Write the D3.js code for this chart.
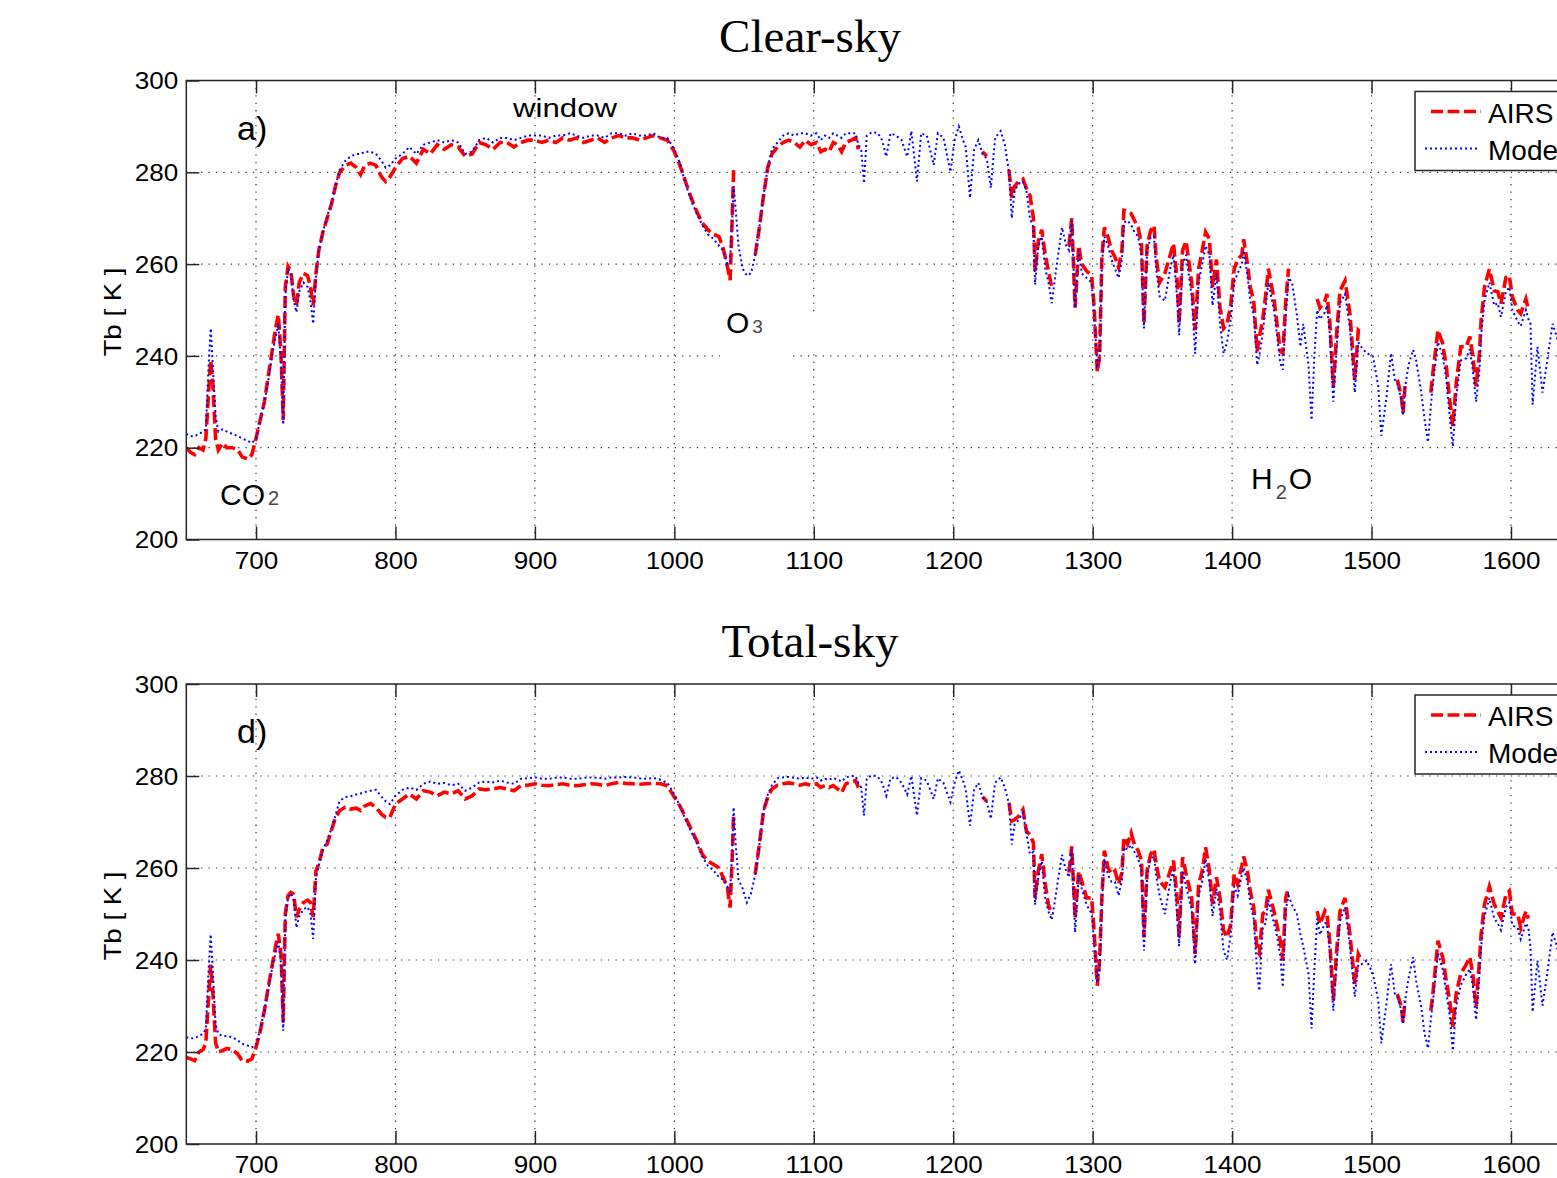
<!DOCTYPE html>
<html>
<head>
<meta charset="utf-8">
<script src="https://d3js.org/d3.v7.min.js"></script>
<style>
  body { margin: 0; background: #fff; }
  svg { display: block; font-family: "Liberation Sans", Arial, Helvetica, sans-serif; }
</style>
</head>
<body>
<div id="chart"></div>
<script>
const _ = null; // no AIRS channel

// wavenumber [cm-1] shared by all four spectra
const wavenumber = [
  650,653,656,659,662,664,666,667.5,669,671,673,676,679,683,687,690,694,697,700,703,706,709,712,714,716,718,719.5,721,723,725,727,729,731,734,737,739,741,743,745,748,751,754,757,
  760,764,768,772,775,778,782,786,790,793,796,
  800,805,810,815,820,825,830,835,840,845,850,855,860,865,870,875,880,885,890,895,900,905,910,915,920,925,930,935,940,945,950,955,960,965,970,975,980,985,990,995,
  1000,1004,1008,1012,1016,1020,1024,1028,1032,1035,1038,1040,1041.5,1042.5,1044,1046,1049,1052,1055,1058,1061,1064,1067,1070,1074,1078,1082,1086,1090,1094,1098,1102,1105,1108,1111,1114,1117,1120,1123,1127,1130,1132,
  1134,1136,1138,1142,1146,1149,1152,1155,1159,1163,1167,1170,1174,1177,1181,1186,1189,1193,1198,1201,1204,1207,1209,1212,1215,1218,1221,1224,1227,1230,1234,1237,
  1240,1242,1244,1247,1250,1252.5,1255,1257.5,1258.7,1261,1263.5,1266,1268.3,1270.7,1273,1275,1278,1281,1283,1285,1287.4,1290,1292.2,1295.7,1299.3,
  1301,1303.3,1305,1306.6,1308.4,1311,1313.5,1316,1318.6,1321,1322.4,1325,1327.6,1330,1332.6,1335,1336.8,1339,1341.6,1344,1345.5,1348,1351.8,1355.6,1358,1360.7,1362,1364.5,1367,1371,1373.5,1376,1378.6,1381,1383.7,1386,1388.8,1391.3,1393.9,1396.4,1399,1401.5,1404,
  1407,1408.3,1411,1413,1415.5,1418,1419.5,1422,1424,1426,1430,1432,1434.5,1436.4,1438.5,1440.5,1443,1446.4,1449,1451,1454.8,1457,1459,1461,1463,1466.6,1468,1470,1472.6,1475,1477.4,1481,1484.5,1488,1490.5,1492.5,
  1496.4,1501,1504.8,1507,1510.7,1514,1516.7,1518.5,1521.4,1522.6,1524,1526.5,1529.8,1532,1535.7,1538,1540.5,
  1542.5,1544,1547.6,1551,1553.6,1556,1558.3,1560.7,1564,1568,1570.5,1572.6,1575,1577.4,1578.6,1581,1584.5,1588,1590.5,1592.8,1596.4,1598.8,1601,1604.8,1607,1610.7,1612.5,1614,1615.5,1619,1622.6,1626,1629.8,1633,1637,1641,1645,1650
];

// brightness temperature [K], clear sky
const airsClear = [
  220,219,218.5,220,219.5,222,232,239,234,222,219.5,221,220,220,219.5,218,217.5,218.5,222,226,230,236,242,246,249,240,226,255,259.5,258.5,253,251,256,258,257.5,255,251,258,263,267,270,273,277,
  280,281.5,282,281,279.5,281.5,282,281.5,279,278,279,
  281,283,283.5,282,285,284,286,285,286,285.5,283.5,284,286.5,286,285,286.5,286.5,285.5,286.5,287,287,286.5,287,286.5,287.5,287,287.5,286.5,287,287.5,286.5,287.5,288,287.5,287.5,287,287.5,288,287.5,287,
  284.5,281.5,278,274.5,271.5,269,267.5,266.5,266,263.5,259.5,256.5,270,280.5,_,_,_,_,_,262,268,275,281,284,285.5,286.5,287,286.5,285.5,287,286,286.5,284.5,285,284.5,286.5,286,284.5,286.5,287,287.5,285,
  _,_,_,_,_,_,_,_,_,_,_,_,_,_,_,_,_,_,_,_,_,_,_,_,_,_,284.5,283.5,_,_,_,_,
  280.5,274.5,277,278,278.5,276.5,275,270,258.5,265,267.5,262,258.5,255,_,_,_,_,264,270,250.5,264,260,258.5,257.5,
  251,236.5,240,261.5,268,265.9,263,261.5,259.3,263,271.7,271.5,271,269.5,268,264.4,247,264,267.3,268.4,261.5,256,258,262,264.5,256,247,263,265,256,245.6,259,263,267,265.5,255,261,250.6,246,247,251,259,261,
  262,265.4,260,255,252,241,244,248,253,259,252.5,247.5,241,240.6,252,259,_,_,_,_,_,_,_,252.4,250.5,252,253.5,247.8,233.4,245,254.2,256.4,249.2,234.8,245.6,245,
  _,_,_,_,_,_,_,234.8,231.2,227.6,233.4,_,_,_,_,_,_,
  232,236.3,245.6,242.7,237.7,230.5,224.7,234,242,242,244.2,240,233.4,240.6,247.8,255,258.9,254.2,254,251.4,257.1,257.5,252.8,250,249.2,252.4,250,_,_,_,_,_,_,_,_,_,_,_
];
const modelClear = [
  223,222.5,222.5,223,223.5,224,238,246,238,227,223.5,224,223.5,223,222.5,222,221.5,221,222,226,230,235,241,244,247,238,225,253,259,258,252,249.5,254,256,255,252,247,257,263,267,270.5,273,277,
  280.5,282.5,283.5,284,284,284.5,284.5,284,282.5,281,281.5,
  283,284,285.5,284,286,286.5,287,286.5,287,286.5,284,284.5,287,287.5,286.5,287.5,287.5,287,287.5,288,288,288,287.5,288,288,288.5,288,287.5,288,288,287.5,288.5,288.5,288,288.5,288,288,288.5,287.5,287.5,
  285,282,277.5,274,271,268.5,266.5,265.5,264,263,260,260.5,270,277,272,264,259,257.5,258,262,268,275,281,285,286.5,288,288.5,288,288.5,288.5,288,288.5,287,288,287.5,288.5,288,287.5,288.5,288.5,288.5,286,
  285,277.6,288,288.8,288.5,287,283.4,288.5,288,287,283.4,289,278,288.5,288,281.6,288.5,287.5,280.1,287,290,287,285.5,274.4,285,287,284,283,276.6,287.5,289,286,
  280,270,276,277.5,278,276,270,268,255.5,264,266,259,256,251.5,257,261.5,268,264,263,269.5,250.5,263,258,257,256,
  249,238,239,260,266,264,261,259,257,261,269,269.5,268.5,267,266,262,246,262.5,266,266,259,253,252,259,262,252,244.5,260,262,253,240.5,256,260,264,262,251,258,247,240.5,243,248,256,258,
  260,263,257.5,252,249,238,240,245,250.5,256,250,245,238.5,237,249,257,256,249,242,247,238,226,240,250,248,249.5,251,245,230,242,251.5,253.5,246,232,243,242,
  240.6,239.9,233.4,222.6,231,240.6,234.8,234,230.5,227,233,238,241.3,239,232,226.2,221.2,
  229,234,243,240,235,227,220.3,231,239,239.5,241.5,237,230,237,244.5,252,256,251,251.5,248.5,254,255,250,247.5,246.5,250,248,247,229.4,242,232,239,247,244,238,243,237,240
];

// brightness temperature [K], total sky
const airsTotal = [
  218.8,218.5,218.1,220,220.5,222,232,239,233,222,220,220.3,220.8,220.5,219.5,218.1,218,218.5,221,224.5,229,234.5,239.5,243,245.7,241,226.4,250,254,254.7,254.3,249.3,251,252.5,253,252.5,249.3,259.4,260.9,264.5,265.2,268.1,271,
  272.5,273.2,272.8,273,272.5,273.5,274,273.2,271.7,271,271,
  273.9,275,276.1,275,276.8,276.5,275.7,276.5,276.1,276.8,275,275.7,277.2,277,277.2,277.5,277.2,276.8,277.9,278,278.3,278,277.9,278.1,278.3,278,277.9,278.1,278.3,278.2,277.9,278.3,278.6,278.4,278.3,278.2,278.3,278.4,278.3,277.9,
  275.4,273.5,271,268.5,266,263,261.5,260.8,260,258,255.8,251.4,262,271.7,_,_,_,_,_,258.7,265.2,272.5,275.4,277.2,278,278.3,278.5,278.3,278,278.3,278,278.3,277.5,277.9,277.5,277.9,277.2,276.4,278.3,278.8,279,277.5,
  _,_,_,_,_,_,_,_,_,_,_,_,_,_,_,_,_,_,_,_,_,_,_,_,_,_,275.5,274.5,_,_,_,_,
  274.2,270.2,270.5,271.3,272.7,268,267.3,265.5,253.5,259.3,263,256.4,252,249.8,_,_,_,_,259,264.7,249.1,259.3,257.1,253.5,253.5,
  246.4,234.4,240,253.6,263.8,260.1,258.7,259.4,256.5,259,266.7,265.2,267.6,265,263.8,261.6,244.9,259.4,263,264.1,260.9,257.2,255.8,259.4,261.6,252.9,244.9,262.3,258.7,253.6,241.3,256.5,259.4,264.5,259.5,252.2,258,253.6,246.4,244.9,247.8,258.7,256.5,
  260.5,262.5,259.3,255,251.5,242,241.3,250,250.6,255.3,250.6,247.8,244.2,239.9,253.6,255.7,_,_,_,_,_,_,_,250.6,247.8,250.7,250,244.2,231.2,242,250.6,253.5,245.6,234.8,241.3,240,
  _,_,_,_,_,_,_,232.6,229.8,226.5,231.2,_,_,_,_,_,_,
  229,232.7,244.2,240.6,235.5,231.2,225.5,232.7,237,239.1,240.6,237,229.8,239.9,245.6,252.1,256,252.1,250.6,249.2,254.2,255,250,250,247,250.6,249,_,_,_,_,_,_,_,_,_,_,_
];
const modelTotal = [
  223.2,223,223,223.5,224,225,238,245.6,238,226,223.9,223.5,223.5,223.2,222.5,221.8,221.4,221,221.5,225,229,234,239,241.5,244,239,224.6,249,253.5,254.5,253,247,249.5,251,251.5,250,244.6,258,260.5,264,266,268.5,271.5,
  274.6,275.4,275.6,276,276.2,276.5,276.8,277,275.5,274.5,273.9,
  275.7,277,277.5,277,278.3,278.8,278.3,278.5,278,278.3,276.8,277.5,278.6,278.8,278.6,279,278.6,278.3,279.4,279.5,279.7,279.4,279.4,279.6,279.7,279.4,279.4,279.6,279.7,279.6,279.4,279.7,279.7,279.8,279.7,279.5,279.4,279.6,279.2,278.5,
  276,273.5,270.5,268,265.5,262.5,260.5,259.5,258,257.5,256,254.5,264,273.2,265.2,257.5,255.5,252.5,254.5,258.5,265,272.5,276,278,279.5,279.7,279.8,279.6,279.4,279.7,279.4,279.7,279,279.4,279.2,279.6,279.2,278.8,279.7,280,280,278.5,
  277.5,271.4,279.5,280.2,279.8,278.5,275.7,279.5,279.8,278.5,276,280,271.4,279.5,279,275,279.5,278.5,274.3,278.5,281.2,279,277,269.2,277,278.5,275.4,274.5,270.7,278.5,279.7,277.5,
  273.9,265.1,269.5,270.5,272,267.5,263,263.5,252,258,261.5,253.5,250.5,248.7,253,257.1,262.9,259.3,258,264,246,258.5,255.5,252,250,
  244,235,238,252,262,258.5,257,257,254,257.5,264.5,264,265,263.5,262,259.5,242,258,262,262.5,258.5,254,250,257,259.5,249,243,259.5,256,251,239.1,254,257,262,257,249.5,255.5,250.5,242,240,245.5,256,254,
  258.5,260,257,252.5,249,237,233.3,247,248,253,248,245.5,241,234.1,251,254,252,250,245.6,243,237,225.1,238,249,245.5,248,248,242,229,239.5,248.5,251.5,243,232,239,239,
  239.9,237,231.2,221.9,230.5,239.1,232.7,232,229,226,231,236,240.6,235.5,229.8,224,220.8,
  227,231,241.5,238,233,228,220.3,230,234.5,237,238,234.5,227,237,243,249.5,253.5,249,248,246.5,251.5,252.5,247.5,247,244.5,248,247,242.7,228.7,239.9,230.1,237,246,243,236,241,235,238
];

const xTicks = [700, 800, 900, 1000, 1100, 1200, 1300, 1400, 1500, 1600];
const yTicks = [200, 220, 240, 260, 280, 300];
const seriesNames = ["AIRS", "Model"];

[airsClear, modelClear, airsTotal, modelTotal].forEach(s => {
  if (s.length !== wavenumber.length) throw new Error("length mismatch " + s.length + " vs " + wavenumber.length);
});

const width = 1557, height = 1178;
const svg = d3.select("#chart").append("svg")
    .attr("width", width)
    .attr("height", height);

// the figure is cut on the right, the axes run on past the page edge
const x = d3.scaleLinear().domain([650, 1650]).range([186.3, 1580.7]);

const panels = [
  {id: "clear", title: "Clear-sky", titleY: 52, tag: "a)", top: 80.5, bottom: 539.5, airs: airsClear, model: modelClear},
  {id: "total", title: "Total-sky", titleY: 657, tag: "d)", top: 684, bottom: 1144, airs: airsTotal, model: modelTotal}
];

const axisColor = "#262626";
const serif = "'Liberation Serif', 'Times New Roman', Times, serif";

panels.forEach((p, pi) => {
  const y = d3.scaleLinear().domain([200, 300]).range([p.bottom, p.top]);
  const g = svg.append("g");
  const x0 = x.range()[0], x1 = x.range()[1];

  g.append("clipPath").attr("id", "clip-" + p.id)
    .append("rect")
      .attr("x", x0).attr("y", p.top)
      .attr("width", x1 - x0).attr("height", p.bottom - p.top);

  // dotted grid
  g.append("g").selectAll("line").data(xTicks).join("line")
      .attr("x1", d => x(d)).attr("x2", d => x(d))
      .attr("y1", p.top).attr("y2", p.bottom)
      .attr("stroke", "#333").attr("stroke-width", 1.2)
      .attr("stroke-dasharray", "1.3,6.1");
  g.append("g").selectAll("line").data(yTicks.slice(1, -1)).join("line")
      .attr("x1", x0).attr("x2", x1)
      .attr("y1", d => y(d)).attr("y2", d => y(d))
      .attr("stroke", "#333").attr("stroke-width", 1.2)
      .attr("stroke-dasharray", "1.3,6.1");

  if (pi === 0) {
    // white boxes left by the O3 label in the original
    g.append("rect").attr("x", 720).attr("y", y(240) - 6).attr("width", 73).attr("height", 12).attr("fill", "#fff");
    g.append("rect").attr("x", x(1100) - 6).attr("y", 313).attr("width", 12).attr("height", 37).attr("fill", "#fff");
  }

  const line = d3.line()
      .defined(d => d.v !== null)
      .x(d => x(d.w))
      .y(d => y(d.v));

  const plot = g.append("g").attr("clip-path", `url(#clip-${p.id})`);
  plot.append("path")
      .datum(wavenumber.map((w, i) => ({w, v: p.airs[i]})))
      .attr("fill", "none")
      .attr("stroke", "#ff0000")
      .attr("stroke-width", 3.6)
      .attr("stroke-dasharray", "12,4.5")
      .attr("d", line);
  plot.append("path")
      .datum(wavenumber.map((w, i) => ({w, v: p.model[i]})))
      .attr("fill", "none")
      .attr("stroke", "#0000ff")
      .attr("stroke-width", 2)
      .attr("stroke-dasharray", "2,3")
      .attr("d", line);

  // axes box
  g.append("rect")
      .attr("x", x0).attr("y", p.top)
      .attr("width", x1 - x0).attr("height", p.bottom - p.top)
      .attr("fill", "none").attr("stroke", axisColor).attr("stroke-width", 1.5);

  const fitText = sel => sel
      .attr("font-size", 23)
      .attr("fill", "#000")
      .attr("textLength", d => String(d).length * 14.5)
      .attr("lengthAdjust", "spacingAndGlyphs");

  const xb = g.append("g")
      .attr("transform", `translate(0,${p.bottom})`)
      .call(d3.axisBottom(x).tickValues(xTicks).tickFormat(d3.format("d")).tickSize(-13).tickPadding(13));
  const xt = g.append("g")
      .attr("transform", `translate(0,${p.top})`)
      .call(d3.axisTop(x).tickValues(xTicks).tickSize(-13).tickFormat(""));
  const yl = g.append("g")
      .attr("transform", `translate(${x0},0)`)
      .call(d3.axisLeft(y).tickValues(yTicks).tickFormat(d3.format("d")).tickSize(-13).tickPadding(8));
  [xb, xt, yl].forEach(a => {
    a.attr("font-family", null).attr("font-size", null);
    a.select(".domain").remove();
    a.selectAll(".tick line").attr("stroke", axisColor).attr("stroke-width", 1.5);
  });
  xb.selectAll(".tick text").call(fitText);
  yl.selectAll(".tick text").call(fitText).attr("dy", "0.36em");

  g.append("text")
      .attr("transform", `translate(121,${(p.top + p.bottom) / 2 + 2}) rotate(-90)`)
      .attr("text-anchor", "middle")
      .attr("font-size", 24)
      .attr("textLength", 89).attr("lengthAdjust", "spacingAndGlyphs")
      .text("Tb [ K ]");

  g.append("text")
      .attr("x", 810).attr("y", p.titleY)
      .attr("text-anchor", "middle")
      .style("font-family", serif)
      .attr("font-size", 47)
      .text(p.title);

  g.append("text")
      .attr("x", 237).attr("y", p.top + 59)
      .attr("font-size", 34)
      .text(p.tag);

  // legend
  const lg = g.append("g").attr("transform", `translate(1415,${p.top + 11})`);
  lg.append("rect")
      .attr("width", 230).attr("height", 79)
      .attr("fill", "#fff").attr("stroke", axisColor).attr("stroke-width", 1.5);
  lg.append("line").attr("x1", 16).attr("x2", 66).attr("y1", 20).attr("y2", 20)
      .attr("stroke", "#ff0000").attr("stroke-width", 3.6).attr("stroke-dasharray", "12,4.5");
  lg.append("line").attr("x1", 10).attr("x2", 64).attr("y1", 57).attr("y2", 57)
      .attr("stroke", "#0000ff").attr("stroke-width", 2).attr("stroke-dasharray", "2,3");
  lg.selectAll("text.lab").data(seriesNames).join("text")
      .attr("class", "lab")
      .attr("x", 73).attr("y", (d, i) => 31 + i * 37)
      .attr("font-size", 28)
      .text(d => d);
});

// annotations of the clear-sky panel
const ann = svg.append("g").attr("font-size", 30).attr("fill", "#000");
ann.append("text").attr("x", 513).attr("y", 117).attr("font-size", 26)
    .attr("textLength", 104).attr("lengthAdjust", "spacingAndGlyphs").text("window");
const co2 = ann.append("text").attr("x", 220).attr("y", 505);
co2.append("tspan").text("CO");
co2.append("tspan").attr("font-size", 20).attr("fill", "#444").attr("dx", 3).text("2");
const o3 = ann.append("text").attr("x", 726).attr("y", 333);
o3.append("tspan").text("O");
o3.append("tspan").attr("font-size", 19).attr("fill", "#444").attr("dx", 3).text("3");
const h2o = ann.append("text").attr("x", 1251).attr("y", 489);
h2o.append("tspan").text("H");
h2o.append("tspan").attr("font-size", 20).attr("fill", "#444").attr("dx", 3).attr("dy", 10).text("2");
h2o.append("tspan").attr("dx", 2).attr("dy", -10).text("O");
</script>
</body>
</html>
